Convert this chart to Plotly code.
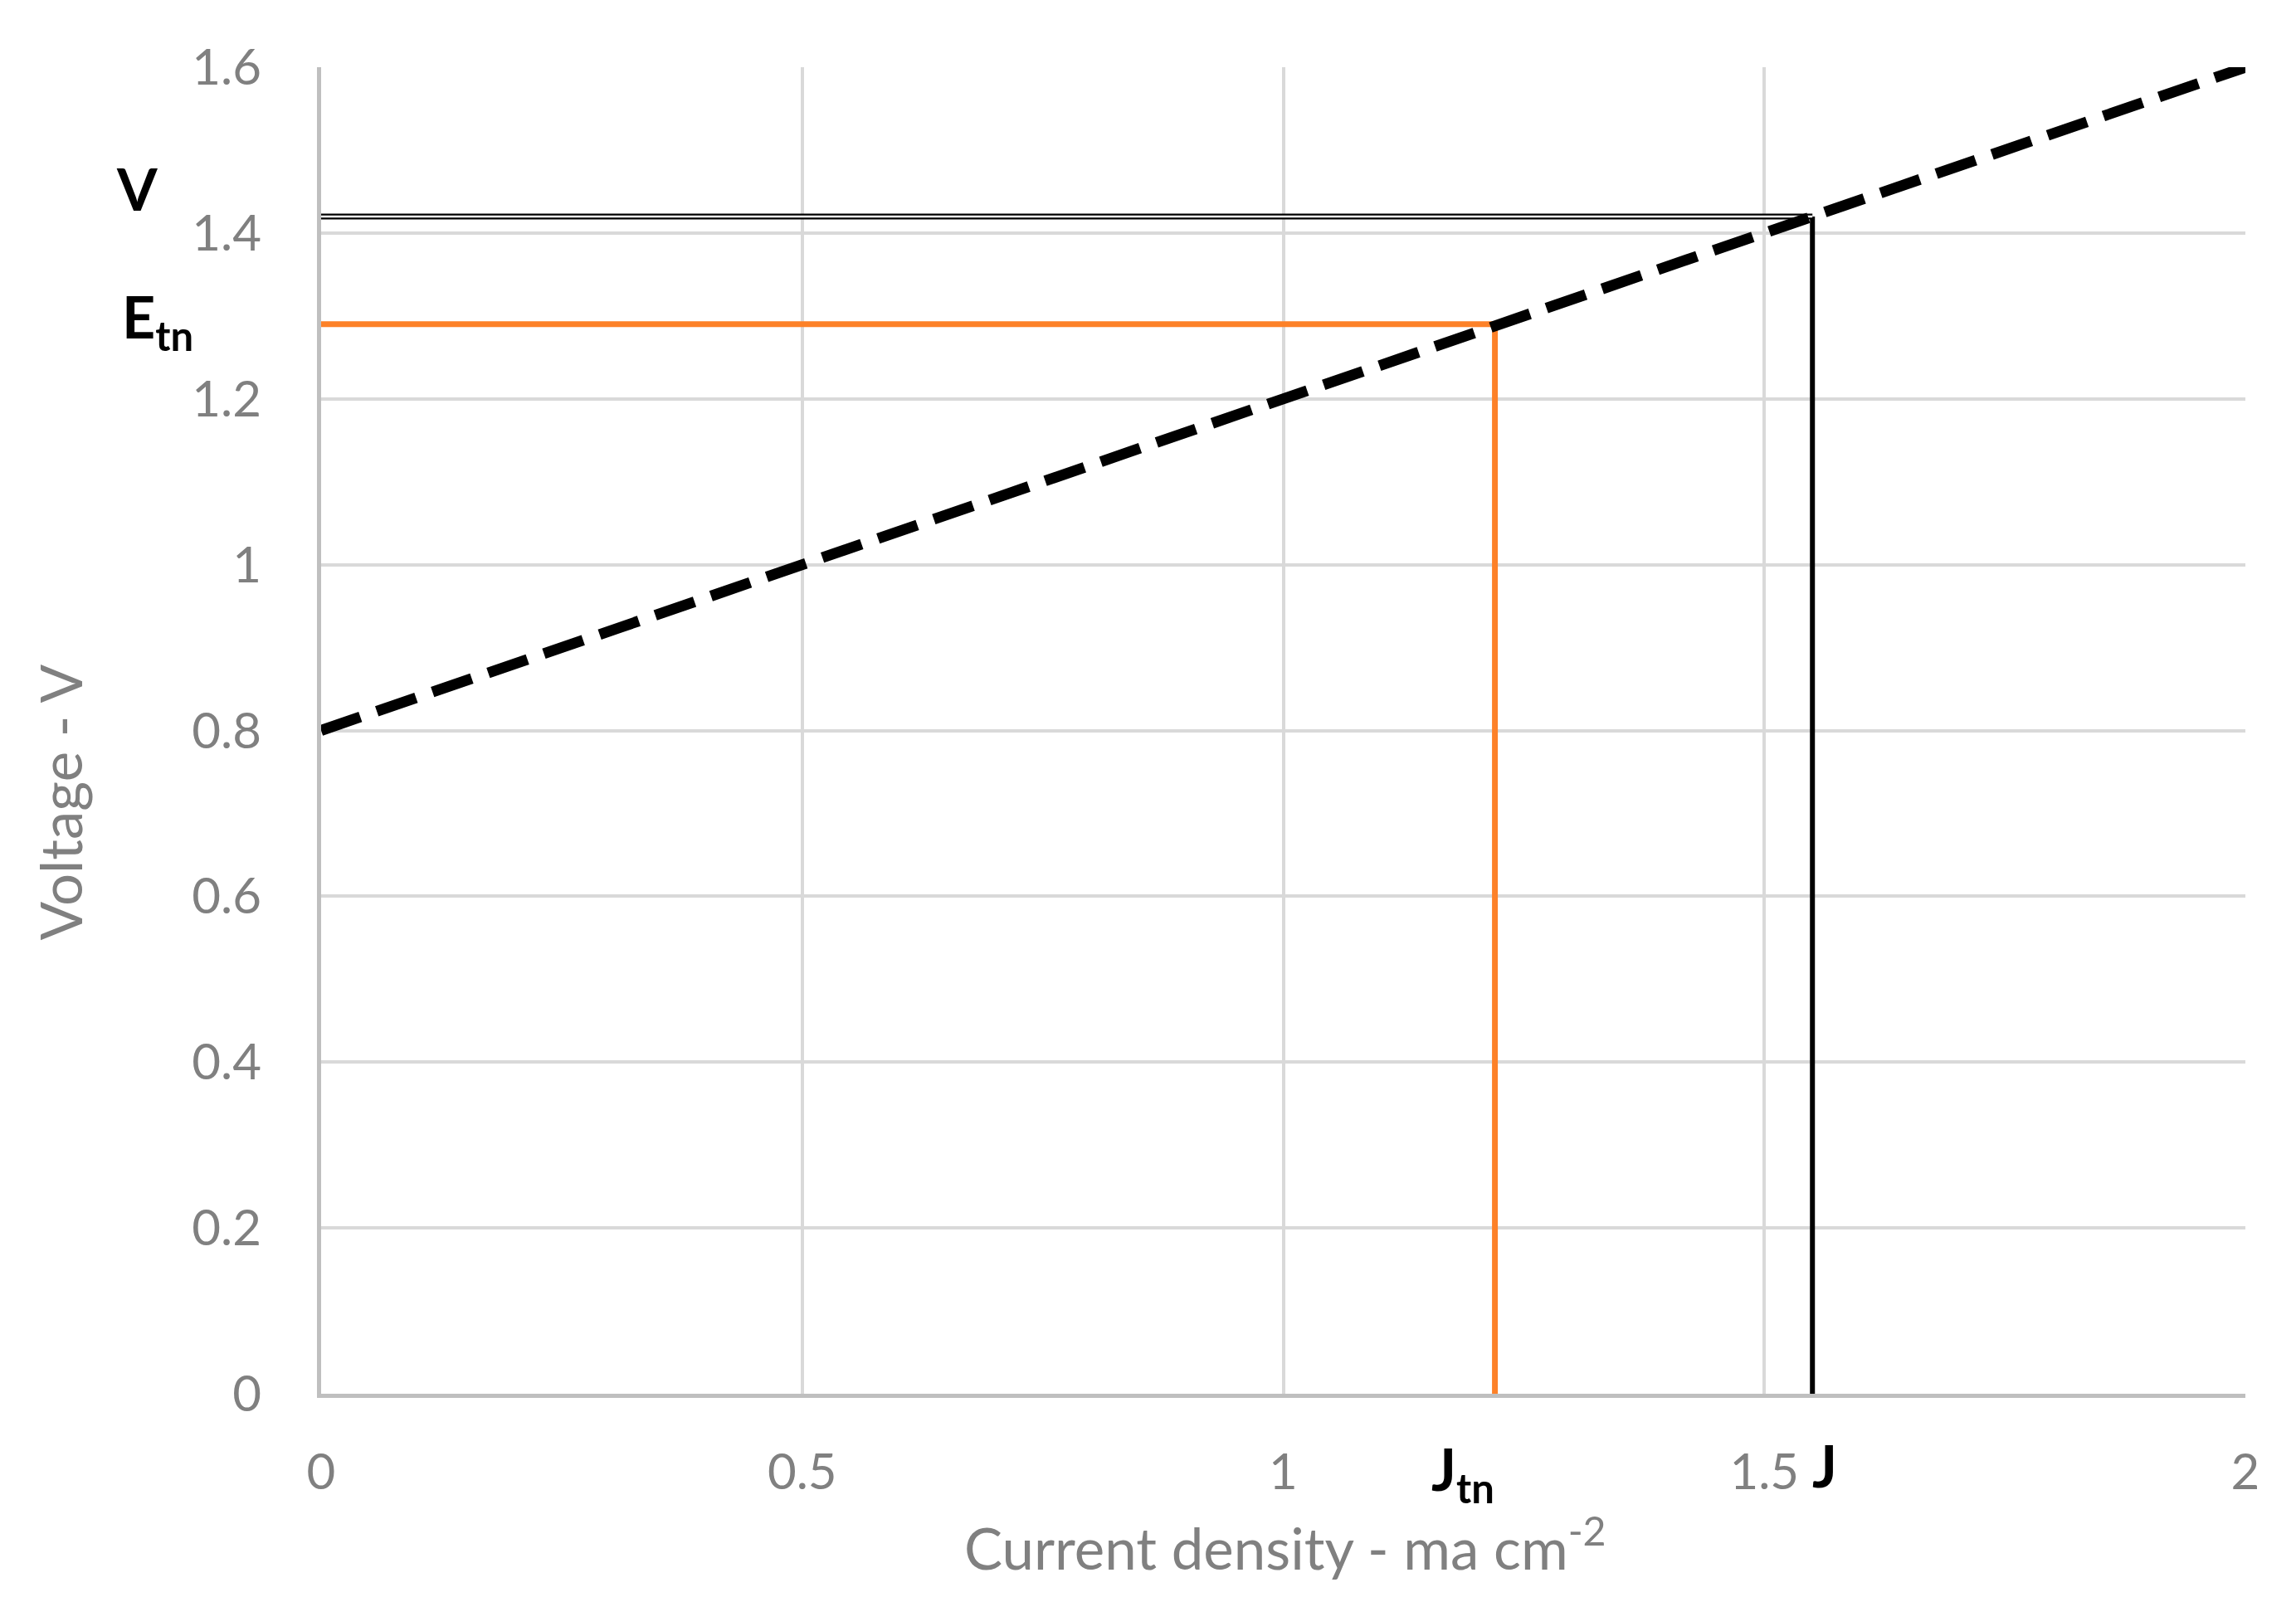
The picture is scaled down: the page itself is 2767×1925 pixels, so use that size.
import plotly.graph_objects as go

# Data
line_x = [0, 2]
line_y = [0.8, 1.6]
J_tn = 1.22
E_tn = 1.29
J_val = 1.55
V_val = 1.42
x_ticks = [0, 0.5, 1, 1.5, 2]
x_ticktext = ["0", "0.5", "1", "1.5", "2"]
y_ticks = [0, 0.2, 0.4, 0.6, 0.8, 1.0, 1.2, 1.4, 1.6]
y_ticktext = ["0", "0.2", "0.4", "0.6", "0.8", "1", "1.2", "1.4", "1.6"]

ORANGE = "#FD8128"
GREY = "#808080"
FONT = "Lato"

fig = go.Figure()

# Orange guide (E_tn / J_tn)
fig.add_trace(go.Scatter(x=[0, J_tn, J_tn], y=[E_tn, E_tn, 0], mode="lines",
                         line=dict(color=ORANGE, width=7), showlegend=False, hoverinfo="skip"))
# Black vertical at J
fig.add_trace(go.Scatter(x=[J_val, J_val], y=[0, V_val], mode="lines",
                         line=dict(color="black", width=6), showlegend=False, hoverinfo="skip"))
# Double horizontal at V (black outer, white inner)
fig.add_trace(go.Scatter(x=[0, J_val], y=[V_val, V_val], mode="lines",
                         line=dict(color="black", width=7), showlegend=False, hoverinfo="skip"))
fig.add_trace(go.Scatter(x=[0, J_val], y=[V_val, V_val], mode="lines",
                         line=dict(color="white", width=2.5), showlegend=False, hoverinfo="skip"))
# Dashed polarization line
fig.add_trace(go.Scatter(x=line_x, y=line_y, mode="lines",
                         line=dict(color="black", width=13, dash="50px,21px"),
                         showlegend=False, hoverinfo="skip"))

lbl = dict(family=FONT, size=70, color="black")
fig.add_annotation(x=0, y=V_val, xref="x", yref="y", text="<b>V</b>", showarrow=False,
                   xanchor="center", yanchor="middle", xshift=-222, yshift=34, font=lbl)
fig.add_annotation(x=0, y=E_tn, xref="x", yref="y", text="<b>E<sub>tn</sub></b>", showarrow=False,
                   xanchor="center", yanchor="middle", xshift=-197, yshift=5, font=lbl)
fig.add_annotation(x=J_tn, y=0, xref="x", yref="y", text="<b>J<sub>tn</sub></b>", showarrow=False,
                   xanchor="center", yanchor="middle", xshift=-39, yshift=-95, font=lbl)
fig.add_annotation(x=J_val, y=0, xref="x", yref="y", text="<b>J</b>", showarrow=False,
                   xanchor="center", yanchor="middle", xshift=15, yshift=-86, font=lbl)

# Axis titles
title_font = dict(family=FONT, size=69, color=GREY)
fig.add_annotation(x=0.501, y=-0.113, xref="paper", yref="paper", xanchor="center", yanchor="middle",
                   text="Current density - ma cm<sup>-2</sup>", showarrow=False, font=title_font)
fig.add_annotation(x=-0.1355, y=0.446, xref="paper", yref="paper", xanchor="center", yanchor="middle",
                   textangle=-90, text="Voltage - V", showarrow=False, font=title_font)

fig.update_layout(
    width=2767, height=1925,
    margin=dict(l=379, r=69, t=73, b=253),
    paper_bgcolor="white", plot_bgcolor="white",
    font=dict(family=FONT, color=GREY),
)
fig.update_xaxes(
    range=[0, 2], tickvals=x_ticks, ticktext=x_ticktext,
    showgrid=True, gridcolor="#D9D9D9", gridwidth=4,
    showline=True, linecolor="#BFBFBF", linewidth=5, zeroline=False,
    ticks="", tickfont=dict(family=FONT, size=60, color=GREY), ticklabelstandoff=38,
)
fig.update_yaxes(
    range=[0, 1.6], tickvals=y_ticks, ticktext=y_ticktext,
    showgrid=True, gridcolor="#D9D9D9", gridwidth=4,
    showline=True, linecolor="#BFBFBF", linewidth=5, zeroline=False,
    ticks="", tickfont=dict(family=FONT, size=60, color=GREY), ticklabelstandoff=55,
)

fig.write_html("out.html")
